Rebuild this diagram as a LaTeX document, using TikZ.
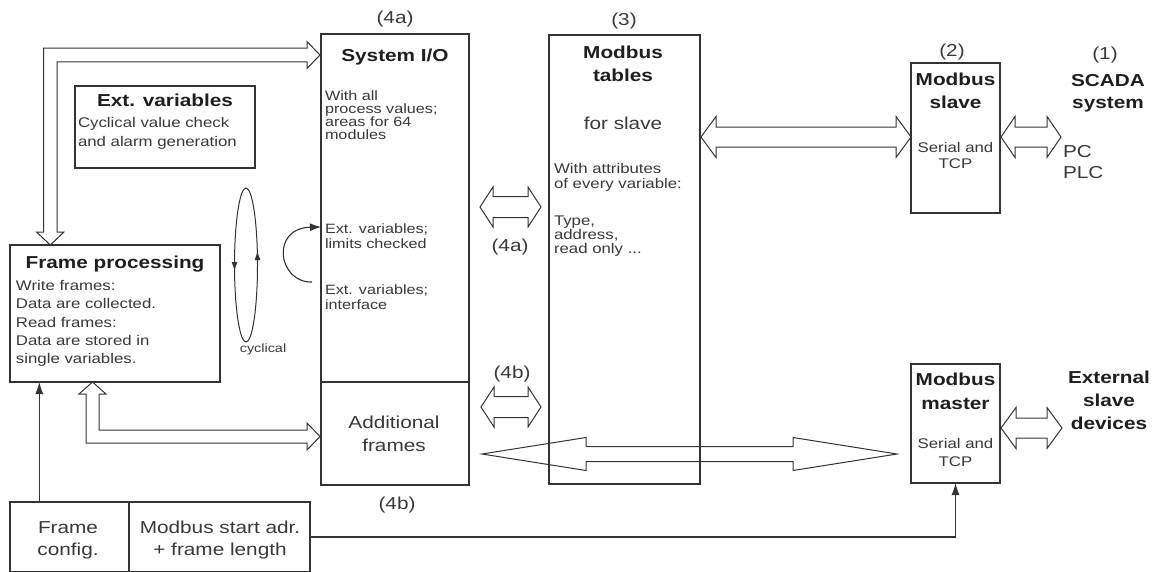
\documentclass[tikz,border=0pt]{standalone}
\usepackage{fontspec}
\setmainfont{Liberation Sans}[FakeStretch=1.2]
\usetikzlibrary{arrows.meta}
\definecolor{linec}{HTML}{333333}
\definecolor{txtc}{HTML}{1E1E1E}
\definecolor{bodyc}{HTML}{383838}
\newcommand{\hdarrow}[6]{%
  \draw[harrow] (#1,#3) -- ({#1+#6},{#3-#5}) -- ({#1+#6},{#3-#4}) -- ({#2-#6},{#3-#4}) -- ({#2-#6},{#3-#5}) -- (#2,#3) -- ({#2-#6},{#3+#5}) -- ({#2-#6},{#3+#4}) -- ({#1+#6},{#3+#4}) -- ({#1+#6},{#3+#5}) -- cycle;}
\begin{document}
\begin{tikzpicture}[x=1pt,y=-1pt,
  box/.style={draw=linec,line width=1.2pt,inner sep=0pt,outer sep=0pt,anchor=north west},
  harrow/.style={draw=linec,line width=1pt,line join=miter},
  tarrow/.style={draw=linec,line width=1.1pt,-{Latex[length=12pt,width=8pt]}},
  tt/.style={inner sep=0pt,outer sep=0pt,anchor=base,text=txtc},
  big/.style={tt,font=\fontsize{17.3}{20}\selectfont},
  bigb/.style={tt,font=\fontsize{17.3}{20}\selectfont\bfseries},
  sm/.style={tt,anchor=base west,text=bodyc,font=\fontsize{14}{16}\selectfont},
  smc/.style={tt,text=bodyc,font=\fontsize{14}{16}\selectfont},
  xs/.style={tt,anchor=base west,text=bodyc,font=\fontsize{13.5}{15}\selectfont},
]
\useasboundingbox (0,0) rectangle (1164,571);

% ---------- boxes ----------
\node[box,minimum width=180pt,minimum height=82pt] (extv) at (75,86) {};
\node[box,minimum width=210pt,minimum height=137pt] (fproc) at (10,245) {};
\node[box,minimum width=148pt,minimum height=451pt] (sysio) at (321,34) {};
\draw[draw=linec,line width=1.2pt] (sysio.west |- 0,382) coordinate (sdl) -- (sysio.east |- 0,382) coordinate (sdr);
\node[box,minimum width=151pt,minimum height=449pt] (modtab) at (549,35) {};
\node[box,minimum width=89pt,minimum height=150pt] (slave) at (911,63) {};
\node[box,minimum width=89pt,minimum height=119pt] (master) at (911,364) {};
\node[box,minimum width=119pt,minimum height=70pt] (fcfg) at (10,502) {};
\node[box,minimum width=181pt,minimum height=70pt] (msa) at (129,502) {};

% ---------- labels ----------
\node[big,text=bodyc] (l4a) at (395,23) {(4a)};
\node[big,text=bodyc] (l3) at (624,25) {(3)};
\node[big,text=bodyc] (l2) at (952,56) {(2)};
\node[big,text=bodyc] (l1) at (1105,59) {(1)};
\node[big,text=bodyc] (l4am) at (510,251) {(4a)};
\node[big,text=bodyc] (l4bm) at (512,378) {(4b)};
\node[big,text=bodyc] (l4bb) at (397,509) {(4b)};

% Ext. variables
\node[bigb] (extvt) at (165,106.2) {Ext. variables};
\node[sm] (extv1) at (78,127) {Cyclical value check};
\node[sm] (extv2) at (78,146) {and alarm generation};

% Frame processing
\node[bigb] (fproct) at (115,268.2) {Frame processing};
\node[sm] (fp1) at (16,290) {Write frames:};
\node[sm] (fp2) at (16,308) {Data are collected.};
\node[sm] (fp3) at (16,327) {Read frames:};
\node[sm] (fp4) at (16,345) {Data are stored in};
\node[sm] (fp5) at (16,363) {single variables.};

% System I/O
\node[bigb] (sysiot) at (395,61.2) {System I/O};
\node[xs] (s1) at (325,100) {With all};
\node[xs] (s2) at (325,113) {process values;};
\node[xs] (s3) at (325,126) {areas for 64};
\node[xs] (s4) at (325,139) {modules};
\node[xs] (s5) at (325,233) {Ext. variables;};
\node[xs] (s6) at (325,248) {limits checked};
\node[xs] (s7) at (325,294) {Ext. variables;};
\node[xs] (s8) at (325,309) {interface};
\node[big,text=bodyc] (add1) at (394,428.2) {Additional};
\node[big,text=bodyc] (add2) at (394,451.2) {frames};

% Modbus tables
\node[bigb] (mt1) at (623,58.2) {Modbus};
\node[bigb] (mt2) at (623,81.2) {tables};
\node[big,text=bodyc] (mt3) at (623,129.2) {for slave};
\node[sm] (mt4) at (554,173) {With attributes};
\node[sm] (mt5) at (554,188) {of every variable:};
\node[sm] (mt6) at (554,225) {Type,};
\node[sm] (mt7) at (554,239) {address,};
\node[sm] (mt8) at (554,253) {read only ...};

% Modbus slave
\node[bigb] (sl1) at (955.5,85.2) {Modbus};
\node[bigb] (sl2) at (955.5,108.2) {slave};
\node[smc] (sl3) at (955.5,152) {Serial and};
\node[smc] (sl4) at (955.5,168) {TCP};

% Modbus master
\node[bigb] (ms1) at (955.5,385.2) {Modbus};
\node[bigb] (ms2) at (955.5,409.2) {master};
\node[smc] (ms3) at (955.5,448) {Serial and};
\node[smc] (ms4) at (955.5,466) {TCP};

% SCADA
\node[bigb] (sc1) at (1108,86.2) {SCADA};
\node[bigb] (sc2) at (1108,108.2) {system};
\node[big,anchor=base west,text=bodyc] (pc) at (1063,157.2) {PC};
\node[big,anchor=base west,text=bodyc] (plc) at (1063,178.2) {PLC};

% External slave devices
\node[bigb] (ex1) at (1109,383.2) {External};
\node[bigb] (ex2) at (1109,406.2) {slave};
\node[bigb] (ex3) at (1109,429.2) {devices};

% Frame config
\node[big,text=bodyc] (fc1) at (68,533.2) {Frame};
\node[big,text=bodyc] (fc2) at (68,555.2) {config.};
\node[big,text=bodyc] (ms1b) at (220,533.2) {Modbus start adr.};
\node[big,text=bodyc] (ms2b) at (220,555.2) {+ frame length};

% cyclical
\node[tt,text=bodyc,font=\fontsize{12}{14}\selectfont] (cyc) at (263,352.3) {cyclical};

% ---------- hollow arrows ----------
\draw[harrow] (320,55) -- (307,41.5) -- (307,48.2) -- (43.5,48.2) -- (43.5,232) -- (36.5,232) -- (50.3,245) -- (64,232) -- (57.1,232) -- (57.1,61.8) -- (307,61.8) -- (307,68.5) -- cycle;
\draw[harrow] (92.5,382) -- (106,394) -- (99,394) -- (99,430) -- (307,430) -- (307,423) -- (320,436.5) -- (307,450) -- (307,443) -- (86,443) -- (86,394) -- (79,394) -- cycle;
\hdarrow{480}{541}{207}{10.5}{20}{13}
\hdarrow{481}{541}{407}{10.5}{20}{13}
\hdarrow{701}{911}{137}{10}{20.5}{15}
\hdarrow{1001}{1061}{137}{10}{20.5}{14}
\hdarrow{1001}{1062}{428}{10}{20.5}{15}
\hdarrow{482}{897}{454}{7.5}{16.5}{104}

% ---------- thin arrows ----------
\draw[tarrow] ([xshift=29.3pt]fcfg.north west) -- ([xshift=29.3pt]fproc.south west);
\draw[tarrow] (msa.east) -| (master.south);
\coordinate (cS) at (312,282);
\draw[draw=linec,line width=1.1pt,-{Latex[length=11pt,width=8pt]}] (cS) .. controls (278,283) and (270,228) .. ([yshift=-193pt]sysio.north west);

% cyclical loop
\draw[draw=linec,line width=1pt] (246,265) ellipse [x radius=11.5pt, y radius=77pt];
\draw[draw=linec,line width=1pt,-{Latex[length=9pt,width=6pt]}] (234.5,252) -- (234.5,271);
\draw[draw=linec,line width=1pt,-{Latex[length=9pt,width=6pt]}] (257.5,270) -- (257.5,251);
\end{tikzpicture}
\end{document}
